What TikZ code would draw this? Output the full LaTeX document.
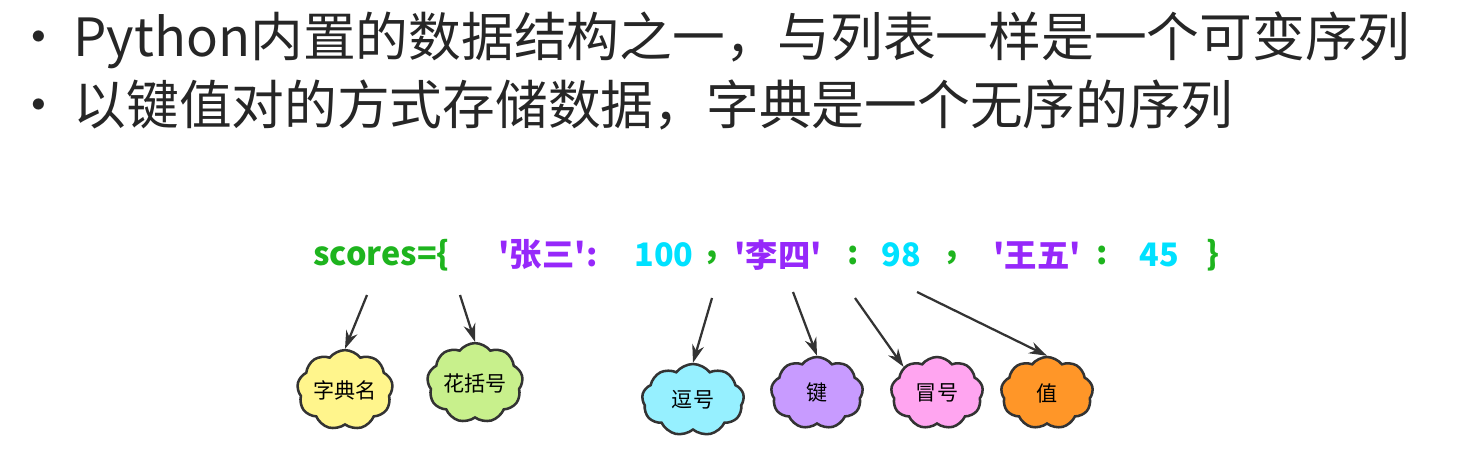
\documentclass[tikz,border=0pt]{standalone}
\usepackage{fontspec}
\setmainfont{Noto Sans CJK SC}
\newfontfamily\codefont[Ligatures=ResetAll]{Noto Sans CJK SC}
\usetikzlibrary{shapes.symbols, arrows.meta, positioning}
\definecolor{cgreen}{RGB}{30,180,30}
\definecolor{cpurple}{RGB}{150,40,250}
\definecolor{ccyan}{RGB}{0,225,255}

\begin{document}
\begin{tikzpicture}[x=0.025cm, y=-0.025cm,
    bullet/.style={anchor=west, font=\fontsize{37.5}{40}\selectfont, text=black!85},
    code/.style={font=\codefont\fontsize{23}{26}\selectfont\bfseries, inner sep=0pt},
    bubble/.style={cloud, cloud puffs=9, cloud puff arc=105, draw=black!80, line width=1.8pt, aspect=1.3, minimum width=2.3cm, minimum height=1.8cm, inner sep=0pt, font=\fontsize{15}{17}\selectfont},
    arrow/.style={-{Stealth[length=4.5mm, width=3mm]}, line width=1.6pt, draw=black!80},
]
\useasboundingbox (0,0) rectangle (1458,473);

% bullet lines
\node[bullet] (b1) at (8,40) {•\hspace{0.15em}Python内置的数据结构之一，与列表一样是一个可变序列};
\node[bullet] (b2) at (8,105) {•\hspace{0.15em}以键值对的方式存储数据，字典是一个无序的序列};

% code line
\node[code, text=cgreen, anchor=west] (name) at (313,255) {scores=\{};
\node[code, text=cpurple] (k1) at (548,255) {'张三':};
\node[code, text=ccyan] (v1) at (664,255) {100};
\node[code, text=cgreen] (c1) at (712,258) {,};
\node[code, text=cpurple] (k2) at (778,255) {'李四'};
\node[code, text=cgreen] (s2) at (853,255) {:};
\node[code, text=ccyan] (v2) at (901,255) {98};
\node[code, text=cgreen] (c2) at (952,258) {,};
\node[code, text=cpurple] (k3) at (1037,255) {'王五'};
\node[code, text=cgreen] (s3) at (1102,255) {:};
\node[code, text=ccyan] (v3) at (1159,255) {45};
\node[code, text=cgreen] (close) at (1213,255) {\}};

% clouds
\node[bubble, fill={rgb,255:red,255;green,245;blue,140}] (dictname) at (345,390) {字典名};
\node[bubble, fill={rgb,255:red,200;green,240;blue,140}] (braces) at (475,383) {花括号};
\node[bubble, fill={rgb,255:red,150;green,240;blue,255}, minimum width=2.55cm] (comma) at (693,400) {逗号};
\node[bubble, fill={rgb,255:red,200;green,155;blue,255}] (key) at (817,393) {键};
\node[bubble, fill={rgb,255:red,255;green,165;blue,240}] (colon) at (937,393) {冒号};
\node[bubble, fill={rgb,255:red,255;green,150;blue,40}] (value) at (1047,393) {值};

% arrows
\coordinate (a1) at (367,295);
\coordinate (a2) at (460,295);
\coordinate (a3) at (712,298);
\coordinate (a4) at (793,292);
\coordinate (a5) at (855,298);
\coordinate (a6) at (917,292);
\draw[arrow] (a1) -- (dictname.north);
\draw[arrow] (a2) -- (braces.north);
\draw[arrow] (a3) -- (comma.north);
\draw[arrow] (a4) -- (key.north);
\draw[arrow] (a5) -- (colon.north west);
\draw[arrow] (a6) -- (value.north);

\end{tikzpicture}
\end{document}
